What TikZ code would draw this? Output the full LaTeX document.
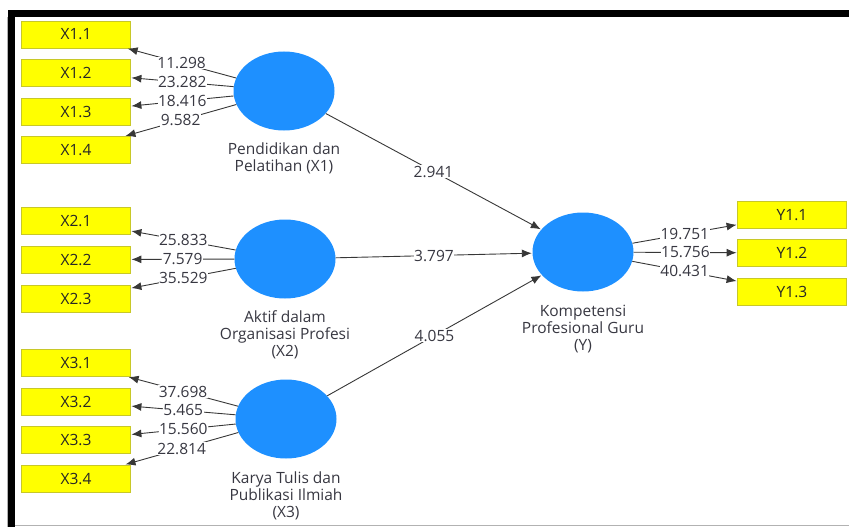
\documentclass[tikz,border=0pt]{standalone}
\usepackage{fontspec}
\setmainfont{Open Sans}
\usetikzlibrary{shapes.geometric,arrows.meta}
\definecolor{lvblue}{RGB}{30,144,255}
\definecolor{indyellow}{RGB}{255,255,0}
\definecolor{indborder}{RGB}{200,200,40}
\definecolor{txtgray}{RGB}{55,55,65}
\definecolor{linegray}{RGB}{55,55,55}
\tikzset{
  latent/.style={ellipse, fill=lvblue, draw=none, minimum width=101pt, minimum height=79pt, inner sep=0pt},
  indicator/.style={rectangle, fill=indyellow, draw=indborder, line width=0.8pt, minimum width=109pt, minimum height=27pt, inner sep=0pt, font=\fontsize{15.5}{17}\selectfont, text=black!85},
  lvname/.style={align=center, font=\fontsize{15.5}{17}\selectfont, text=txtgray, inner sep=0pt},
  coef/.style={fill=white, inner sep=0.5pt, font=\fontsize{15.5}{17}\selectfont, text=txtgray},
  link/.style={draw=linegray, line width=0.9pt, -{Latex[length=10pt,width=8pt]}, shorten >=0.5pt}
}
\begin{document}
\begin{tikzpicture}[x=1pt,y=-1pt]
  \useasboundingbox (0,0) rectangle (849,527);
  % window frame
  \fill[black] (8,10) rectangle (849,17);
  \fill[black] (8,10) rectangle (15,527);
  \draw[gray!60, line width=0.8pt] (7,17) -- (7,527);
  \draw[gray!60, line width=1pt] (15,525.5) -- (849,525.5);

  % latent variables
  \node[latent] (X1) at (284,91) {};
  \node[latent] (X2) at (285,259) {};
  \node[latent] (X3) at (286,419) {};
  \node[latent] (Y)  at (583,252) {};

  \node[lvname] (X1n) at (284,158.5) {Pendidikan dan\\Pelatihan (X1)};
  \node[lvname] (X2n) at (285,335) {Aktif dalam\\Organisasi Profesi\\(X2)};
  \node[lvname] (X3n) at (286,495.5) {Karya Tulis dan\\Publikasi Ilmiah\\(X3)};
  \node[lvname] (Yn)  at (583,329) {Kompetensi\\Profesional Guru\\(Y)};

  % indicators
  \node[indicator] (x11) at (76,34.5) {X1.1};
  \node[indicator] (x12) at (76,73) {X1.2};
  \node[indicator] (x13) at (76,111.5) {X1.3};
  \node[indicator] (x14) at (76,150) {X1.4};

  \node[indicator] (x21) at (76,221) {X2.1};
  \node[indicator] (x22) at (76,259.5) {X2.2};
  \node[indicator] (x23) at (76,298.5) {X2.3};

  \node[indicator] (x31) at (76,363) {X3.1};
  \node[indicator] (x32) at (76,401.5) {X3.2};
  \node[indicator] (x33) at (76,440) {X3.3};
  \node[indicator] (x34) at (76,478.5) {X3.4};

  \node[indicator] (y11) at (792,215) {Y1.1};
  \node[indicator] (y12) at (792,253) {Y1.2};
  \node[indicator] (y13) at (792,291.5) {Y1.3};

  % outer loadings
  \draw[link] (X1) -- node[coef] {11.298} (x11);
  \draw[link] (X1) -- node[coef] {23.282} (x12);
  \draw[link] (X1) -- node[coef] {18.416} (x13);
  \draw[link] (X1) -- node[coef] {9.582} (x14);

  \draw[link] (X2) -- node[coef] {25.833} (x21);
  \draw[link] (X2) -- node[coef] {7.579} (x22);
  \draw[link] (X2) -- node[coef] {35.529} (x23);

  \draw[link] (X3) -- node[coef] {37.698} (x31);
  \draw[link] (X3) -- node[coef] {5.465} (x32);
  \draw[link] (X3) -- node[coef] {15.560} (x33);
  \draw[link] (X3) -- node[coef] {22.814} (x34);

  \draw[link] (Y) -- node[coef] {19.751} (y11);
  \draw[link] (Y) -- node[coef] {15.756} (y12);
  \draw[link] (Y) -- node[coef] {40.431} (y13);

  % structural paths
  \draw[link] (X1) -- node[coef] {2.941} (Y);
  \draw[link] (X2) -- node[coef] {3.797} (Y);
  \draw[link] (X3) -- node[coef] {4.055} (Y);
\end{tikzpicture}
\end{document}
